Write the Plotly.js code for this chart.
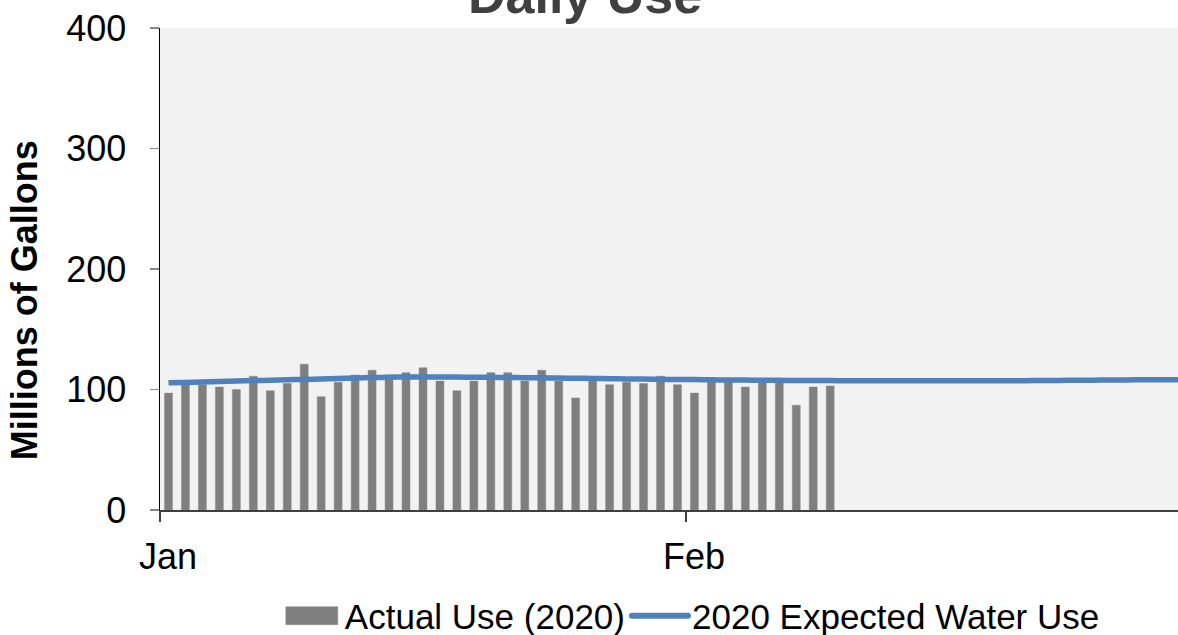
<!DOCTYPE html>
<html>
<head>
<meta charset="utf-8">
<script src="https://cdn.plot.ly/plotly-3.0.1.min.js"></script>
<style>
  html, body { margin: 0; padding: 0; background: #ffffff; }
  #chart { width: 1178px; height: 635px; }
</style>
</head>
<body>
<div id="chart"></div>
<script>
// ---- Data ----
const startDate = '2020-01-01';
const actualUse2020 = [97, 105, 104, 102, 100, 111, 99, 105, 121, 94,
                       106, 112, 116, 112, 114, 118, 107, 99, 107, 114,
                       114, 107, 116, 107, 93, 107, 104, 106, 105, 111,
                       104, 97, 107, 107, 102, 107, 107, 87, 102, 103];
const expectedUse2020 = [105.5, 105.9, 106.3, 106.7, 107.0, 107.4, 107.7, 108.1, 108.4, 108.8,
                         109.2, 109.6, 109.9, 110.2, 110.4, 110.4, 110.4, 110.3, 110.2, 110.1,
                         110.0, 109.8, 109.7, 109.5, 109.3, 109.2, 109.0, 108.8, 108.7, 108.5,
                         108.3, 108.2, 108.0, 107.9, 107.8, 107.7, 107.6, 107.5, 107.4, 107.4,
                         107.3, 107.3, 107.2, 107.2, 107.2, 107.2, 107.2, 107.2, 107.2, 107.2,
                         107.3, 107.4, 107.5, 107.6, 107.7, 107.8, 107.9, 108.0, 108.0, 108.1,
                         108.2];
const monthTickVals = ['2019-12-31 12:00', '2020-01-31 12:00'];
const monthTickText = ['Jan', 'Feb'];
const yTickVals = [0, 100, 200, 300, 400];
const seriesNames = ['Actual Use (2020)', '2020 Expected Water Use'];
const chartTitle = 'Daily Use';
const yTitle = 'Millions of Gallons';

function dayDates(n) {
  const out = [];
  const base = new Date(startDate + 'T00:00:00Z');
  for (let i = 0; i < n; i++) {
    const d = new Date(base.getTime() + i * 86400000);
    out.push(d.toISOString().slice(0, 10));
  }
  return out;
}

const DAY = 86400000;
const font = 'Arial, "Liberation Sans", sans-serif';

const traces = [
  {
    type: 'bar',
    name: seriesNames[0],
    x: dayDates(actualUse2020.length),
    y: actualUse2020,
    width: 0.47 * DAY,
    marker: { color: '#7f7f7f', line: { color: '#8c8c8c', width: 0.5 } },
    hoverinfo: 'x+y'
  },
  {
    type: 'scatter',
    mode: 'lines',
    name: seriesNames[1],
    x: dayDates(expectedUse2020.length),
    y: expectedUse2020,
    line: { color: '#4f81bd', width: 5.5, shape: 'spline' },
    hoverinfo: 'x+y'
  }
];

const layout = {
  width: 1178,
  height: 635,
  margin: { l: 160, r: 0, t: 28, b: 125 },
  paper_bgcolor: '#ffffff',
  plot_bgcolor: '#f2f2f2',
  font: { family: font, size: 35, color: '#000000' },
  bargap: 0,
  showlegend: true,
  legend: {
    orientation: 'h',
    xref: 'container', x: 0.589, xanchor: 'center',
    yref: 'container', y: 0.03, yanchor: 'middle',
    font: { family: font, size: 35, color: '#000000' },
    bgcolor: 'rgba(0,0,0,0)',
    itemwidth: 52,
    tracegroupgap: 0
  },
  xaxis: {
    type: 'date',
    range: ['2019-12-31 12:00', '2020-02-29 12:00'],
    tickmode: 'array',
    tickvals: monthTickVals,
    ticktext: monthTickText,
    ticks: 'outside',
    ticklen: 10,
    tickwidth: 1.5,
    tickcolor: '#404040',
    ticklabelshift: 8,
    ticklabelstandoff: 4,
    showline: true,
    linecolor: '#404040',
    linewidth: 1.5,
    showgrid: false,
    zeroline: false,
    tickfont: { family: font, size: 36, color: '#000000' }
  },
  yaxis: {
    range: [0, 400],
    tickmode: 'array',
    tickvals: yTickVals,
    ticks: 'outside',
    ticklen: 9,
    tickwidth: 1.5,
    tickcolor: '#868686',
    ticklabelstandoff: 16,
    showline: true,
    linecolor: '#000000',
    linewidth: 1.5,
    showgrid: false,
    zeroline: false,
    tickfont: { family: font, size: 36, color: '#000000' }
  },
  annotations: [
    {
      text: '<b>' + chartTitle + '</b>',
      xref: 'paper', yref: 'paper',
      x: 0.4175, y: 1.0685,
      xanchor: 'center', yanchor: 'middle',
      showarrow: false,
      font: { family: font, size: 52, color: '#404040' }
    },
    {
      text: '<b>' + yTitle + '</b>',
      xref: 'paper', yref: 'paper',
      x: -0.1336, y: 0.435,
      xanchor: 'center', yanchor: 'middle',
      textangle: -90,
      showarrow: false,
      font: { family: font, size: 36, color: '#000000' }
    }
  ]
};

Plotly.newPlot('chart', traces, layout, { displayModeBar: false, staticPlot: true }).then(function (gd) {
  // Enlarge legend symbols to match the wide Excel-style keys
  const groups = gd.querySelectorAll('.legend .traces');
  groups.forEach(function (g) {
    g.querySelectorAll('.legendpoints path').forEach(function (p) {
      p.setAttribute('transform', '');
      p.setAttribute('d', 'M3,9H55V-9H3Z');
    });
    g.querySelectorAll('.legendlines path').forEach(function (p) {
      p.setAttribute('transform', '');
      p.setAttribute('d', 'M2,0H58');
      p.style.strokeLinecap = 'round';
      p.style.strokeWidth = '6px';
    });
  });
});
</script>
</body>
</html>
